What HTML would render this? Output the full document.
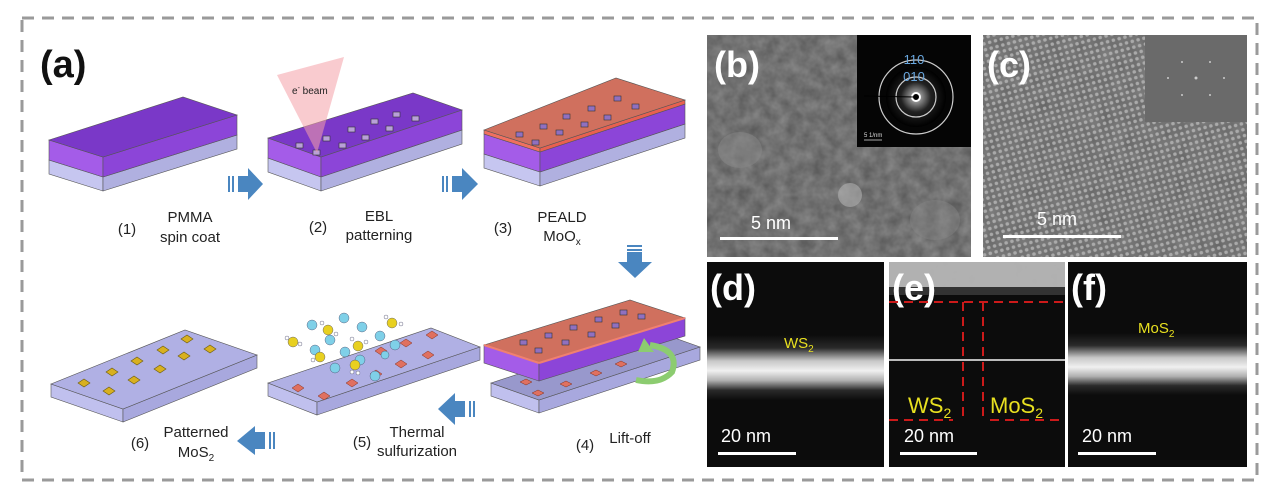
<!DOCTYPE html>
<html><head><meta charset="utf-8"><style>
html,body{margin:0;padding:0;background:#fff}
svg{display:block}
text{font-family:"Liberation Sans",sans-serif}
</style></head><body>
<svg width="1268" height="500" viewBox="0 0 1268 500" xmlns="http://www.w3.org/2000/svg">
<defs>
<filter id="nz" x="0" y="0" width="100%" height="100%">
<feTurbulence type="fractalNoise" baseFrequency="0.08" numOctaves="3" seed="3"/>
<feColorMatrix type="matrix" values="0 0 0 0 0.45  0 0 0 0 0.45  0 0 0 0 0.45  0 0 0 0.6 0"/>
</filter>
<pattern id="lat" width="6" height="6" patternUnits="userSpaceOnUse" patternTransform="rotate(-15)">
<rect width="6" height="6" fill="#666"/><circle cx="3" cy="3" r="1.8" fill="#a8a8a8"/>
</pattern>
<linearGradient id="band" x1="0" y1="0" x2="0" y2="1">
<stop offset="0" stop-color="#0c0c0c"/><stop offset="0.2" stop-color="#2a2a2a"/>
<stop offset="0.4" stop-color="#c8c8c8"/><stop offset="0.55" stop-color="#f0f0f0"/>
<stop offset="0.7" stop-color="#b0b0b0"/><stop offset="0.85" stop-color="#2a2a2a"/><stop offset="1" stop-color="#0c0c0c"/>
</linearGradient>
<radialGradient id="sad"><stop offset="0" stop-color="#fff"/><stop offset="0.15" stop-color="#999"/><stop offset="0.5" stop-color="#222"/><stop offset="1" stop-color="#000"/></radialGradient>
</defs>
<rect x="22" y="18" width="1235" height="462" fill="none" stroke="#9a9a9a" stroke-width="3" stroke-dasharray="12,8"/>

<text x="40" y="77" font-size="38" font-weight="bold" fill="#111">(a)</text>

<g stroke="#555" stroke-width="0.6">
<polygon points="49,160 103,177 103,191 49,174" fill="#c6c6f0"/>
<polygon points="103,177 237,135 237,149 103,191" fill="#b0b0e0"/>
<polygon points="49,140 103,157 103,177 49,160" fill="#a45ce8"/>
<polygon points="103,157 237,115 237,135 103,177" fill="#8c45d8"/>
<polygon points="49,140 183,97 237,115 103,157" fill="#7a38c8"/>
</g>
<g stroke="#555" stroke-width="0.6">
<polygon points="268,158 321,177 321,191 268,172" fill="#c6c6f0"/>
<polygon points="321,177 462,130 462,144 321,191" fill="#b0b0e0"/>
<polygon points="268,138 321,157 321,177 268,158" fill="#a45ce8"/>
<polygon points="321,157 462,110 462,130 321,177" fill="#8c45d8"/>
<polygon points="268,138 413,93 462,110 321,157" fill="#7a38c8"/>
</g>
<g fill="#b9a0d8" stroke="#333" stroke-width="0.6">
<rect x="296" y="143" width="7" height="5"/><rect x="313" y="150" width="7" height="5"/>
<rect x="323" y="136" width="7" height="5"/><rect x="339" y="143" width="7" height="5"/>
<rect x="348" y="127" width="7" height="5"/><rect x="362" y="135" width="7" height="5"/>
<rect x="371" y="119" width="7" height="5"/><rect x="386" y="126" width="7" height="5"/>
<rect x="393" y="112" width="7" height="5"/><rect x="412" y="116" width="7" height="5"/>
</g>
<polygon points="277,75 344,57 317,153" fill="#f4a0a8" opacity="0.55"/>
<text x="292" y="94" font-size="10" fill="#222">e<tspan font-size="7" dy="-4">-</tspan><tspan dy="4"> beam</tspan></text>
<g stroke="#555" stroke-width="0.6">
<polygon points="484,154 540,172 540,186 484,168" fill="#c6c6f0"/>
<polygon points="540,172 685,124 685,138 540,186" fill="#b0b0e0"/>
<polygon points="484,134 540,152 540,172 484,154" fill="#a45ce8"/>
<polygon points="540,152 685,104 685,124 540,172" fill="#8c45d8"/>
<polygon points="484,130 540,148 540,152 484,134" fill="#f07060"/>
<polygon points="540,148 685,100 685,104 540,152" fill="#e86050"/>
<polygon points="484,130 616,78 685,100 540,148" fill="#d0705e"/>
</g>
<g fill="#9070c0" stroke="#333" stroke-width="0.6">
<rect x="516" y="132" width="7" height="5"/><rect x="532" y="140" width="7" height="5"/>
<rect x="540" y="124" width="7" height="5"/><rect x="556" y="130" width="7" height="5"/>
<rect x="563" y="114" width="7" height="5"/><rect x="581" y="122" width="7" height="5"/>
<rect x="588" y="106" width="7" height="5"/><rect x="604" y="115" width="7" height="5"/>
<rect x="614" y="96" width="7" height="5"/><rect x="632" y="104" width="7" height="5"/>
</g>

<g fill="#4a86c0">
<polygon points="238,176 248,176 248,168 263,184 248,200 248,192 238,192"/>
<rect x="228" y="176" width="2" height="16"/><rect x="232" y="176" width="2" height="16"/>
<polygon points="452,176 462,176 462,168 478,184 462,200 462,192 452,192"/>
<rect x="442" y="176" width="2" height="16"/><rect x="446" y="176" width="2" height="16"/>
<polygon points="627,252 642,252 642,262 652,262 635,278 618,262 627,262"/>
<rect x="627" y="245" width="15" height="2"/><rect x="627" y="249" width="15" height="2"/>
<polygon points="465,401 455,401 455,393 438,409 455,425 455,417 465,417"/>
<rect x="469" y="401" width="2" height="16"/><rect x="473" y="401" width="2" height="16"/>
<polygon points="265,432 255,432 255,426 237,441 255,455 255,449 265,449"/>
<rect x="269" y="432" width="2" height="17"/><rect x="273" y="432" width="2" height="17"/>
</g>

<g font-size="15" fill="#222" text-anchor="middle">
<text x="127" y="234">(1)</text><text x="190" y="222">PMMA</text><text x="190" y="242">spin coat</text>
<text x="318" y="232">(2)</text><text x="379" y="221">EBL</text><text x="379" y="240">patterning</text>
<text x="503" y="233">(3)</text><text x="562" y="222">PEALD</text><text x="562" y="241">MoO<tspan font-size="10" dy="4">x</tspan></text>
<text x="140" y="448">(6)</text><text x="196" y="437">Patterned</text><text x="196" y="457">MoS<tspan font-size="10" dy="4">2</tspan></text>
<text x="362" y="447">(5)</text><text x="417" y="437">Thermal</text><text x="417" y="456">sulfurization</text>
<text x="585" y="450">(4)</text><text x="630" y="443">Lift-off</text>
</g>

<g stroke="#555" stroke-width="0.6">
<polygon points="51,384 123,409 123,422 51,397" fill="#c0c0ee"/>
<polygon points="123,409 257,355 257,368 123,422" fill="#a8a8de"/>
<polygon points="51,384 185,330 257,355 123,409" fill="#b0b0e4"/>
</g>
<g fill="#d8b020" stroke="#6a5a10" stroke-width="0.6">
<polygon points="78,383 84,379 90,383 84,387"/><polygon points="103,391 109,387 115,391 109,395"/>
<polygon points="106,372 112,368 118,372 112,376"/><polygon points="128,380 134,376 140,380 134,384"/>
<polygon points="131,361 137,357 143,361 137,365"/><polygon points="154,369 160,365 166,369 160,373"/>
<polygon points="157,350 163,346 169,350 163,354"/><polygon points="178,356 184,352 190,356 184,360"/>
<polygon points="181,339 187,335 193,339 187,343"/><polygon points="204,349 210,345 216,349 210,353"/>
</g>
<g stroke="#555" stroke-width="0.6">
<polygon points="268,383 317,402 317,415 268,396" fill="#c0c0ee"/>
<polygon points="317,402 480,347 480,360 317,415" fill="#a8a8de"/>
<polygon points="268,383 431,328 480,347 317,402" fill="#b0b0e4"/>
</g>
<g fill="#e07060" stroke="#803020" stroke-width="0.5">
<polygon points="292,388 298,384 304,388 298,392"/><polygon points="318,396 324,392 330,396 324,400"/>
<polygon points="346,383 352,379 358,383 352,387"/><polygon points="370,374 376,370 382,374 376,378"/>
<polygon points="395,364 401,360 407,364 401,368"/><polygon points="422,355 428,351 434,355 428,359"/>
<polygon points="375,351 381,347 387,351 381,355"/><polygon points="400,343 406,339 412,343 406,347"/>
<polygon points="426,335 432,331 438,335 432,339"/>
</g>
<g stroke="#446" stroke-width="0.4">
<g fill="#7fd0e8">
<circle cx="312" cy="325" r="5"/><circle cx="344" cy="318" r="5"/><circle cx="362" cy="327" r="5"/><circle cx="380" cy="336" r="5"/>
<circle cx="330" cy="340" r="5"/><circle cx="315" cy="350" r="5"/><circle cx="345" cy="352" r="5"/><circle cx="360" cy="360" r="5"/>
<circle cx="395" cy="345" r="5"/><circle cx="375" cy="376" r="5"/><circle cx="335" cy="368" r="5"/><circle cx="385" cy="355" r="4"/>
</g>
<g fill="#e8d020">
<circle cx="328" cy="330" r="5"/><circle cx="392" cy="323" r="5"/><circle cx="320" cy="357" r="5"/><circle cx="358" cy="346" r="5"/><circle cx="355" cy="365" r="5"/><circle cx="293" cy="342" r="5"/>
</g>
<g fill="#fff">
<circle cx="322" cy="323" r="2"/><circle cx="336" cy="334" r="2"/><circle cx="401" cy="324" r="2"/><circle cx="386" cy="317" r="2"/>
<circle cx="287" cy="338" r="2"/><circle cx="300" cy="344" r="2"/><circle cx="366" cy="342" r="2"/><circle cx="352" cy="339" r="2"/>
<circle cx="352" cy="372" r="2"/><circle cx="358" cy="373" r="2"/><circle cx="313" cy="360" r="2"/>
</g>
</g>
<g stroke="#555" stroke-width="0.6">
<polygon points="491,383 539,400 539,413 491,396" fill="#c0c0ee"/>
<polygon points="539,400 700,347 700,360 539,413" fill="#a8a8de"/>
<polygon points="491,383 652,330 700,347 539,400" fill="#9898cc"/>
</g>
<g fill="#e07060" stroke="#803020" stroke-width="0.5">
<polygon points="532,393 538,390 544,393 538,396"/><polygon points="560,384 566,381 572,384 566,387"/>
<polygon points="590,373 596,370 602,373 596,376"/><polygon points="520,382 526,379 532,382 526,385"/>
<polygon points="615,364 621,361 627,364 621,367"/>
</g>
<g stroke="#555" stroke-width="0.6">
<polygon points="484,345 539,363 539,381 484,363" fill="#a45ce8"/>
<polygon points="539,363 685,318 685,336 539,381" fill="#8c45d8"/>
<polygon points="484,345 630,300 685,318 539,363" fill="#d0705e"/>
<line x1="484" y1="345" x2="539" y2="363" stroke="#f08070" stroke-width="2"/>
<line x1="539" y1="363" x2="685" y2="318" stroke="#f08070" stroke-width="2"/>
</g>
<g fill="#9070c0" stroke="#333" stroke-width="0.6">
<rect x="535" y="348" width="7" height="5"/><rect x="520" y="340" width="7" height="5"/>
<rect x="545" y="333" width="7" height="5"/><rect x="562" y="340" width="7" height="5"/>
<rect x="570" y="325" width="7" height="5"/><rect x="588" y="332" width="7" height="5"/>
<rect x="595" y="317" width="7" height="5"/><rect x="612" y="323" width="7" height="5"/>
<rect x="620" y="310" width="7" height="5"/><rect x="638" y="314" width="7" height="5"/>
</g>
<path d="M650,345 Q680,350 672,372 Q660,385 636,380" fill="none" stroke="#8ccc70" stroke-width="6"/>
<polygon points="644,338 654,352 638,352" fill="#8ccc70"/>

<!-- (b) -->
<rect x="707" y="35" width="264" height="222" fill="#555"/>
<rect x="707" y="35" width="264" height="222" filter="url(#nz)"/>
<ellipse cx="740" cy="150" rx="22" ry="18" fill="#8a8a8a" opacity="0.5"/>
<ellipse cx="850" cy="195" rx="12" ry="12" fill="#b0b0b0" opacity="0.6"/>
<ellipse cx="935" cy="220" rx="25" ry="20" fill="#8a8a8a" opacity="0.4"/>
<rect x="857" y="35" width="114" height="112" fill="#050505"/>
<circle cx="916" cy="97" r="30" fill="url(#sad)"/>
<circle cx="916" cy="97" r="20" fill="none" stroke="#ccc" stroke-width="1.2"/>
<circle cx="916" cy="97" r="37" fill="none" stroke="#ccc" stroke-width="1.2"/>
<circle cx="916" cy="97" r="4" fill="#000" stroke="#fff" stroke-width="2"/>
<line x1="864" y1="96" x2="914" y2="97" stroke="#000" stroke-width="1"/>
<text x="914" y="64" font-size="13" fill="#6aa8e0" text-anchor="middle">110</text>
<text x="914" y="81" font-size="13" fill="#6aa8e0" text-anchor="middle">010</text>
<text x="864" y="137" font-size="6" fill="#ddd">5 1/nm</text>
<line x1="864" y1="140" x2="882" y2="140" stroke="#ddd" stroke-width="0.8"/>
<text x="714" y="77" font-size="36" font-weight="bold" fill="#fff">(b)</text>
<text x="771" y="229" font-size="18" fill="#fff" text-anchor="middle">5 nm</text>
<rect x="720" y="237" width="118" height="3" fill="#fff"/>

<!-- (c) -->
<rect x="983" y="35" width="264" height="222" fill="url(#lat)"/>
<rect x="983" y="35" width="264" height="222" filter="url(#nz)" opacity="0.6"/>
<rect x="1145" y="35" width="102" height="87" fill="#6a6a6a"/>
<g fill="#ccc"><circle cx="1196" cy="78" r="1.5"/><circle cx="1182" cy="62" r="1"/><circle cx="1210" cy="62" r="1"/><circle cx="1168" cy="78" r="1"/><circle cx="1224" cy="78" r="1"/><circle cx="1182" cy="95" r="1"/><circle cx="1210" cy="95" r="1"/></g>
<text x="987" y="77" font-size="36" font-weight="bold" fill="#fff">(c)</text>
<text x="1057" y="225" font-size="18" fill="#fff" text-anchor="middle">5 nm</text>
<rect x="1003" y="235" width="118" height="3" fill="#fff"/>

<!-- (d) -->
<rect x="707" y="262" width="177" height="205" fill="#0c0c0c"/>
<rect x="707" y="335" width="177" height="65" fill="url(#band)"/>
<text x="710" y="300" font-size="36" font-weight="bold" fill="#fff">(d)</text>
<text x="784" y="348" font-size="15" fill="#e8e020">WS<tspan font-size="10" dy="4">2</tspan></text>
<text x="721" y="442" font-size="18" fill="#fff">20 nm</text>
<rect x="718" y="452" width="78" height="3" fill="#fff"/>

<!-- (e) -->
<rect x="889" y="262" width="176" height="205" fill="#0c0c0c"/>
<rect x="889" y="262" width="176" height="25" fill="#b0b0b0"/>
<rect x="889" y="262" width="176" height="25" filter="url(#nz)"/>
<rect x="889" y="287" width="176" height="8" fill="#333"/>
<rect x="889" y="359" width="176" height="2" fill="#bbb"/>
<text x="892" y="300" font-size="36" font-weight="bold" fill="#fff">(e)</text>
<g stroke="#cc1a1a" stroke-width="2" stroke-dasharray="9,6" fill="none">
<line x1="889" y1="302" x2="1065" y2="302"/>
<line x1="963" y1="302" x2="963" y2="420"/>
<line x1="983" y1="302" x2="983" y2="420"/>
<line x1="889" y1="420" x2="953" y2="420"/>
<line x1="990" y1="420" x2="1065" y2="420"/>
</g>
<text x="908" y="413" font-size="22" fill="#e8e020">WS<tspan font-size="14" dy="5">2</tspan></text>
<text x="990" y="413" font-size="22" fill="#e8e020">MoS<tspan font-size="14" dy="5">2</tspan></text>
<text x="904" y="442" font-size="18" fill="#fff">20 nm</text>
<rect x="900" y="452" width="77" height="3" fill="#fff"/>

<!-- (f) -->
<rect x="1068" y="262" width="179" height="205" fill="#0c0c0c"/>
<rect x="1068" y="333" width="179" height="62" fill="url(#band)"/>
<text x="1071" y="300" font-size="36" font-weight="bold" fill="#fff">(f)</text>
<text x="1138" y="333" font-size="15" fill="#e8e020">MoS<tspan font-size="10" dy="4">2</tspan></text>
<text x="1082" y="442" font-size="18" fill="#fff">20 nm</text>
<rect x="1078" y="452" width="78" height="3" fill="#fff"/>
</svg>
</body></html>
